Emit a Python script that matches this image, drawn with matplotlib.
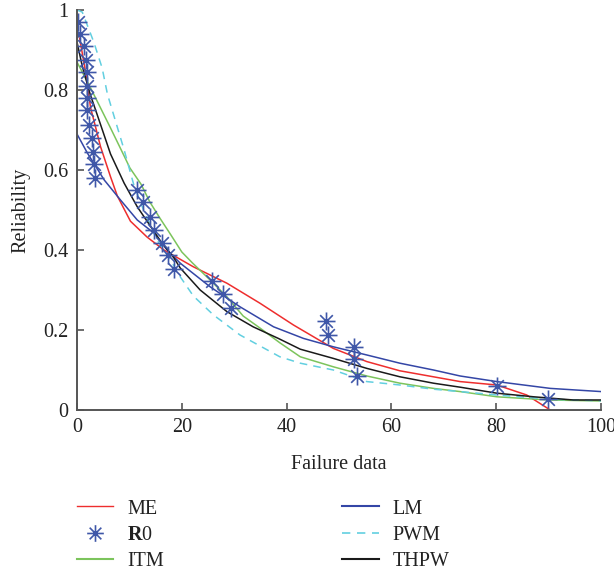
import matplotlib
matplotlib.use("Agg")
import matplotlib.pyplot as plt
from matplotlib.path import Path
from matplotlib.lines import Line2D

# observed reliability (stars)
r0_x = [0.2, 0.6, 1.3, 1.8, 1.9, 2.0, 2.0, 2.0, 2.3, 2.9, 3.1, 3.2, 3.4, 11.5, 12.5,
        13.9, 14.6, 16.2, 17.4, 18.5, 25.7, 27.9, 29.4, 47.5, 47.8, 52.9, 52.9, 53.5,
        80.1, 89.8]
r0_y = [0.97, 0.94, 0.91, 0.876, 0.845, 0.81, 0.78, 0.75, 0.713, 0.68, 0.645, 0.615,
        0.58, 0.55, 0.52, 0.483, 0.45, 0.418, 0.388, 0.352, 0.322, 0.29, 0.254, 0.223,
        0.188, 0.157, 0.127, 0.085, 0.06, 0.027]

# fitted curves
me_x = [0.5, 1.7, 2.6, 3.2, 4.5, 6.4, 7.7, 10.2, 13.4, 16.6, 22.2, 28.6, 34.9, 41.3,
        48.9, 55.3, 61.6, 68, 73.1, 80.1, 85.8, 90.3]
me_y = [0.93, 0.84, 0.755, 0.725, 0.658, 0.583, 0.535, 0.472, 0.432, 0.40, 0.358, 0.317,
        0.267, 0.2125, 0.154, 0.121, 0.098, 0.083, 0.071, 0.0625, 0.0375, 0.0]

itm_x = [0, 2.6, 4.5, 6.4, 9.0, 10.1, 12.2, 13.9, 15.8, 17.8, 20.0, 22.0, 25.4, 28.6,
         31.7, 34.9, 38.7, 42.6, 48.9, 55.3, 61.6, 68, 73.1, 80.1, 90, 100]
itm_y = [0.87, 0.805, 0.755, 0.705, 0.635, 0.605, 0.565, 0.52, 0.48, 0.44, 0.395, 0.368,
         0.325, 0.283, 0.235, 0.205, 0.168, 0.133, 0.108, 0.085, 0.067, 0.054, 0.046,
         0.033, 0.025, 0.0225]

lm_x = [0, 2.0, 5.2, 8.3, 11.5, 14.7, 17.2, 19.7, 25.4, 31.1, 37.5, 43.2, 48.9, 55.3,
        61.6, 68, 73.1, 80.1, 90.3, 100]
lm_y = [0.69, 0.642, 0.575, 0.525, 0.475, 0.442, 0.40, 0.367, 0.308, 0.258, 0.208, 0.179,
        0.158, 0.1375, 0.117, 0.1, 0.085, 0.071, 0.054, 0.046]

pwm_x = [0, 1.0, 3.2, 4.8, 5.8, 7.4, 9.0, 10.9, 12.7, 15.3, 17.6, 19.7, 22.2, 26, 31.1,
         38.7, 42.6, 48.9, 55.3, 61.6, 68, 73.1, 80.1, 90.3, 100]
pwm_y = [1.0, 0.995, 0.92, 0.855, 0.79, 0.72, 0.65, 0.56, 0.5, 0.425, 0.38, 0.333, 0.285,
         0.238, 0.1875, 0.133, 0.117, 0.1, 0.071, 0.0625, 0.052, 0.046, 0.0375, 0.027,
         0.023]

thpw_x = [0, 1.0, 2.5, 4.2, 6.4, 9.0, 11.5, 14.1, 15.8, 18.5, 19.7, 23.5, 28.6, 33.6,
          38.4, 42.6, 48.9, 55.3, 61.6, 68, 73.1, 80.1, 87.1, 94.7, 100]
thpw_y = [0.92, 0.86, 0.79, 0.725, 0.64, 0.567, 0.508, 0.458, 0.425, 0.38, 0.355, 0.30,
          0.246, 0.208, 0.179, 0.152, 0.129, 0.104, 0.083, 0.067, 0.057, 0.042, 0.033,
          0.025, 0.025]

plt.rcParams["font.family"] = ["Liberation Serif", "DejaVu Serif"]
plt.rcParams["mathtext.fontset"] = "custom"
plt.rcParams["mathtext.bf"] = "Liberation Serif:bold"
plt.rcParams["mathtext.rm"] = "Liberation Serif"

# matlab-style asterisk marker
star = Path([(-1, 0), (1, 0), (0, -1), (0, 1), (-0.7, -0.7), (0.7, 0.7), (-0.7, 0.7), (0.7, -0.7)],
            [Path.MOVETO, Path.LINETO] * 4)

c_red = "#ee2e2e"
c_green = "#7cc45c"
c_blue = "#3446a6"
c_cyan = "#62cfe0"
c_black = "#1a1a1a"
c_star = "#3f57a8"

fig = plt.figure(figsize=(6.14, 5.73), dpi=100)
ax = fig.add_axes([0.1254, 0.2845, 0.8536, 0.698])

ax.plot(me_x, me_y, color=c_red, lw=1.1)
ax.plot(itm_x, itm_y, color=c_green, lw=1.1)
ax.plot(lm_x, lm_y, color=c_blue, lw=1.1)
ax.plot(pwm_x, pwm_y, color=c_cyan, lw=1.1, ls=(0, (5, 4)))
ax.plot(thpw_x, thpw_y, color=c_black, lw=1.1)
ax.plot(r0_x, r0_y, ls="none", marker=star, ms=13, mew=1.2, color=c_star)

ax.set_xlim(0, 100)
ax.set_ylim(0, 1)
ax.set_xticks([0, 20, 40, 60, 80, 100])
ax.set_yticks([0, 0.2, 0.4, 0.6, 0.8, 1])
ax.set_yticklabels(["0", "0.2", "0.4", "0.6", "0.8", "1"])
for s in ["top", "right"]:
    ax.spines[s].set_visible(False)
for s in ["left", "bottom"]:
    ax.spines[s].set_color("#555555")
    ax.spines[s].set_linewidth(1.4)
ax.tick_params(direction="in", length=5, width=1.2, color="#555555",
               labelsize=14.5, labelcolor="#222222", pad=6)
ax.set_xlabel("Failure data", fontsize=14.5, color="#222222", labelpad=13)
ax.set_ylabel("Reliability", fontsize=14.5, color="#222222", labelpad=9)

handles = [
    Line2D([], [], color=c_red, lw=1.0),
    Line2D([], [], ls="none", marker=star, ms=12, mew=1.2, color=c_star),
    Line2D([], [], color=c_green, lw=1.5),
    Line2D([], [], color=c_blue, lw=1.5),
    Line2D([], [], color=c_cyan, lw=1.2, ls=(0, (5, 4))),
    Line2D([], [], color=c_black, lw=1.5),
]
labels = ["ME", r"$\mathbf{R}$0", "ITM", "LM", "PWM", "THPW"]
fig.legend(handles, labels, ncol=2, loc="upper left", bbox_to_anchor=(0.096, 0.16),
           frameon=False, fontsize=14.5, handlelength=1.8, handletextpad=0.7,
           columnspacing=8.85, labelspacing=0.35, labelcolor="#222222")

fig.savefig("out.png", dpi=100)
